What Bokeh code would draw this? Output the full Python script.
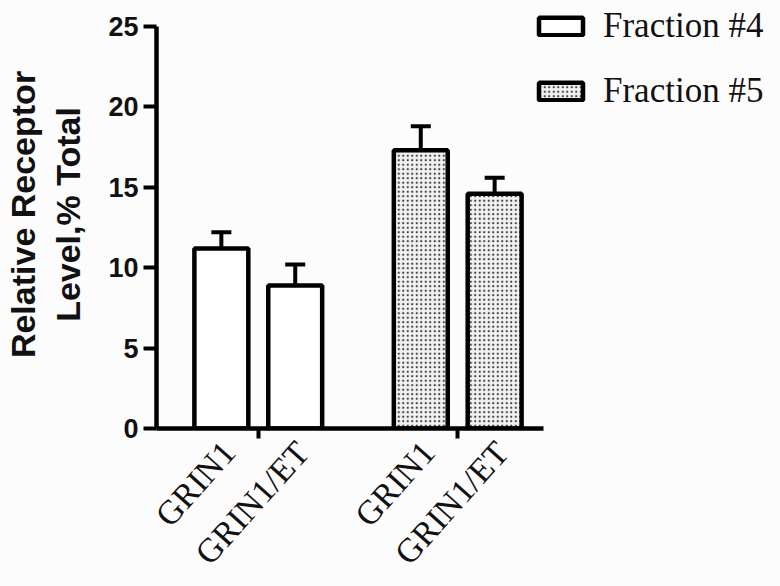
from bokeh.embed import file_html
from bokeh.models import (ColumnDataSource, FixedTicker, Legend, LegendItem,
                          Range1d, TeeHead, Whisker)
from bokeh.plotting import figure
from bokeh.resources import INLINE

# ---- data -------------------------------------------------------------
conditions = ["GRIN1", "GRIN1/ET"]
series_names = ["Fraction #4", "Fraction #5"]
frac4_mean = [11.2, 8.9]
frac4_err = [1.0, 1.3]
frac5_mean = [17.3, 14.6]
frac5_err = [1.5, 1.0]
y_ticks = [0, 5, 10, 15, 20, 25]

# ---- layout constants (x in bar-step units) ----------------------------
FIRST_BAR = 1.0
GROUP_STEP = 2.7
BAR_WIDTH = 0.73
LABEL_SHIFT = 0.1          # rotated category labels sit a little right of the bar
X_START = 0.122
X_AXIS_END = 5.365
X_END = 8.57
Y_TOP = 26.62

def positions(group):
    return [round(FIRST_BAR + group * GROUP_STEP + i, 3) for i in range(len(conditions))]

x4 = positions(0)
x5 = positions(1)
group_centers = [round(sum(x4) / len(x4), 3), round(sum(x5) / len(x5), 3)]
label_pos = [round(x + LABEL_SHIFT, 3) for x in x4 + x5]

p = figure(width=780, height=586,
           x_range=Range1d(X_START, X_END), y_range=Range1d(0, Y_TOP),
           output_backend="svg", toolbar_location=None,
           min_border_left=155, min_border_right=0,
           min_border_top=0, min_border_bottom=158)
p.outline_line_color = None
p.background_fill_color = "#fcfcfc"
p.border_fill_color = "#fcfcfc"
p.xgrid.visible = False
p.ygrid.visible = False

LW = 4.5

src4 = ColumnDataSource(dict(x=x4, top=frac4_mean,
                             upper=[m + e for m, e in zip(frac4_mean, frac4_err)]))
src5 = ColumnDataSource(dict(x=x5, top=frac5_mean,
                             upper=[m + e for m, e in zip(frac5_mean, frac5_err)]))

r4 = p.vbar(x="x", top="top", bottom=0, width=BAR_WIDTH, source=src4,
            fill_color="white", line_color="black", line_width=LW)
r5 = p.vbar(x="x", top="top", bottom=0, width=BAR_WIDTH, source=src5,
            fill_color="#f2f2f2", line_color="black", line_width=LW,
            hatch_pattern="dot", hatch_scale=4.5, hatch_color="#404040",
            hatch_weight=1.3)

for src in (src4, src5):
    w = Whisker(source=src, base="x", lower="top", upper="upper",
                dimension="height", line_color="black", line_width=4,
                upper_head=TeeHead(size=20, line_color="black", line_width=4),
                lower_head=None)
    p.add_layout(w)

# ---- y axis ------------------------------------------------------------
yax = p.yaxis[0]
yax.ticker = FixedTicker(ticks=y_ticks)
yax.bounds = (0, 25)
yax.axis_line_width = LW
yax.axis_line_color = "black"
yax.major_tick_out = 13
yax.major_tick_in = 0
yax.major_tick_line_color = "black"
yax.major_tick_line_width = 4
yax.minor_tick_line_color = None
yax.major_label_text_font = "Liberation Sans"
yax.major_label_text_font_style = "bold"
yax.major_label_text_font_size = "27px"
yax.major_label_text_color = "#111111"
yax.major_label_standoff = 5
yax.axis_label = "Relative Receptor\nLevel,% Total"
yax.axis_label_text_font = "Liberation Sans"
yax.axis_label_text_font_style = "bold"
yax.axis_label_text_font_size = "34px"
yax.axis_label_text_color = "#111111"
yax.axis_label_standoff = 18

# ---- x axis ------------------------------------------------------------
xax = p.xaxis[0]
xax.ticker = FixedTicker(ticks=label_pos, minor_ticks=group_centers)
xax.bounds = (X_START, X_AXIS_END)
xax.axis_line_width = LW
xax.axis_line_color = "black"
xax.major_tick_line_color = None
xax.major_tick_out = 0
xax.major_tick_in = 0
xax.minor_tick_line_color = "black"
xax.minor_tick_line_width = 4
xax.minor_tick_out = 10
xax.minor_tick_in = 0
xax.major_label_overrides = {x: name for x, name in zip(label_pos, conditions * 2)}
xax.major_label_orientation = 0.84
xax.major_label_text_font = "Liberation Serif"
xax.major_label_text_font_size = "34px"
xax.major_label_text_color = "#111111"
xax.major_label_standoff = 8

# ---- legend ------------------------------------------------------------
legend = Legend(items=[LegendItem(label=series_names[0], renderers=[r4]),
                       LegendItem(label=series_names[1], renderers=[r5])],
                location=(377, 317), padding=0, margin=0, spacing=25,
                glyph_width=55, glyph_height=22, label_standoff=15,
                label_text_font="Liberation Serif", label_text_font_size="35px",
                label_text_color="#111111",
                border_line_color=None, background_fill_alpha=0)
p.add_layout(legend)

open("out.html", "w").write(file_html(p, INLINE))
